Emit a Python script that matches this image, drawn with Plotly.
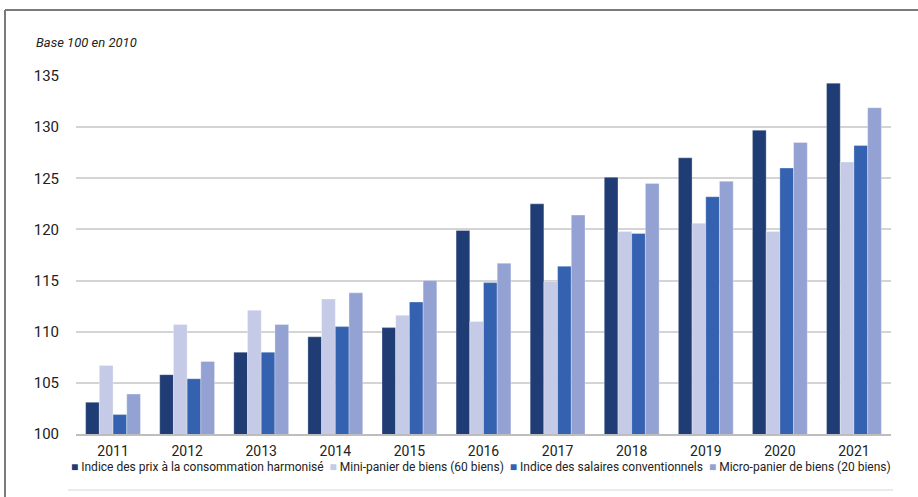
import plotly.graph_objects as go

# Années et indices (base 100 en 2010)
years = ["2011", "2012", "2013", "2014", "2015", "2016", "2017", "2018", "2019", "2020", "2021"]

ipch = [103.1, 105.8, 108.0, 109.5, 110.4, 119.9, 122.5, 125.1, 127.0, 129.7, 134.3]
mini_panier = [106.7, 110.7, 112.1, 113.2, 111.6, 111.0, 114.9, 119.8, 120.6, 119.8, 126.6]
salaires = [101.9, 105.4, 108.0, 110.5, 112.9, 114.8, 116.4, 119.6, 123.2, 126.0, 128.2]
micro_panier = [103.9, 107.1, 110.7, 113.8, 115.0, 116.7, 121.4, 124.5, 124.7, 128.5, 131.9]

series_names = [
    "Indice des prix à la consommation harmonisé",
    "Mini-panier de biens (60 biens)",
    "Indice des salaires conventionnels",
    "Micro-panier de biens (20 biens)",
]
series_values = [ipch, mini_panier, salaires, micro_panier]
colors = ["#1f3c74", "#c5cae7", "#3462b1", "#94a2d3"]

y_ticks = [100, 105, 110, 115, 120, 125, 130, 135]

FONT = "Roboto, Liberation Sans, sans-serif"

W, H = 918, 497
L, R, T, B = 76, 27, 76, 63
PW, PH = W - L - R, H - T - B


def px_x(x):
    return (x - L) / PW


def px_y(y):
    return (H - B - y) / PH


fig = go.Figure()
for name, vals, col in zip(series_names, series_values, colors):
    fig.add_trace(go.Bar(
        x=years, y=vals, name=name,
        marker=dict(color=col, line=dict(color="rgba(255,255,255,0.5)", width=0.6)),
        showlegend=False,
    ))

# Légende dessinée sous l'axe, en une seule ligne
legend_text = "&nbsp;&nbsp;".join(
    f"<span style='color:{col}'>■</span> {name}" for name, col in zip(series_names, colors)
)
fig.add_annotation(
    xref="paper", yref="paper", x=px_x(481), y=px_y(467),
    xanchor="center", yanchor="middle", showarrow=False,
    text=legend_text,
    font=dict(family=FONT, size=12, color="#222222"),
)

# Mention de la base
fig.add_annotation(
    xref="paper", yref="paper", x=px_x(34), y=px_y(42),
    xanchor="left", yanchor="middle", showarrow=False,
    text="<i>Base 100 en 2010</i>",
    font=dict(family=FONT, size=13, color="#222222"),
)

# Cadre (haut et gauche) et filet sous la légende
fig.add_shape(type="line", xref="paper", yref="paper",
              x0=px_x(5), x1=px_x(918), y0=px_y(10), y1=px_y(10),
              line=dict(color="#7a7a7a", width=2))
fig.add_shape(type="line", xref="paper", yref="paper",
              x0=px_x(5), x1=px_x(5), y0=px_y(10), y1=px_y(497),
              line=dict(color="#7a7a7a", width=2))
fig.add_shape(type="line", xref="paper", yref="paper",
              x0=px_x(68), x1=px_x(893), y0=px_y(490), y1=px_y(490),
              line=dict(color="#d6d6d6", width=1))

fig.update_layout(
    width=W, height=H,
    margin=dict(l=L, r=R, t=T, b=B, autoexpand=False),
    paper_bgcolor="white", plot_bgcolor="white",
    barmode="group", bargap=0.26, bargroupgap=0.0,
    font=dict(family=FONT, size=14, color="#222222"),
    xaxis=dict(
        showgrid=False, showline=True, linecolor="#bdbdbd", linewidth=2,
        ticks="", ticklabelstandoff=3,
        tickfont=dict(family=FONT, size=14, color="#222222"),
    ),
    yaxis=dict(
        range=[100, 135], tickvals=y_ticks, showgrid=True,
        gridcolor="#d4d4d4", gridwidth=1.5, zeroline=False, showline=False,
        ticks="", ticklabelstandoff=16,
        tickfont=dict(family=FONT, size=15, color="#222222"),
    ),
)

fig.write_html("out.html")
